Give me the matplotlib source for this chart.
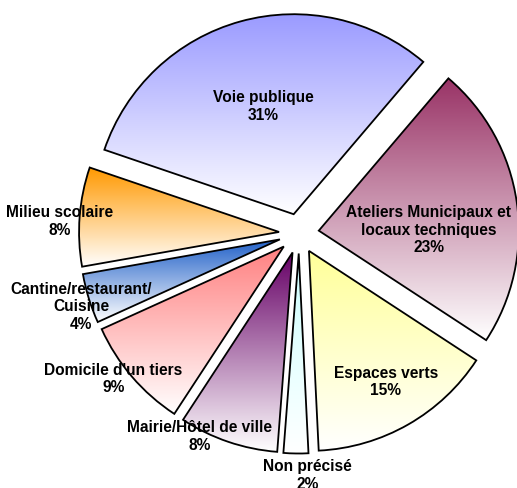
import numpy as np
import matplotlib
matplotlib.use("Agg")
import matplotlib.pyplot as plt
from matplotlib.colors import LinearSegmentedColormap

# Data (clockwise order starting at upper right)
categories = ["Ateliers Municipaux et\nlocaux techniques", "Espaces verts", "Non précisé",
              "Mairie/Hôtel de ville", "Domicile d'un tiers", "Cantine/restaurant/\nCuisine",
              "Milieu scolaire", "Voie publique"]
values = [23, 15, 2, 8, 9, 4, 8, 31]
colors = ["#993366", "#FFFF99", "#CCFFFF", "#660066", "#FF8080", "#2060C8", "#FF9900", "#9999FF"]

# layout: label radius (relative to pie centre) and angular offset (deg)
label_r = [0.65, 0.86, 1.21, 1.13, 1.18, 1.15, 1.20, 0.66]
label_dang = [-6.7, 0.5, 2.8, -7.2, -2.5, 1.4, 1.5, 0.3]

W, H, DPI = 517, 488, 100
fig = plt.figure(figsize=(W / DPI, H / DPI), dpi=DPI)
ax = fig.add_axes([0, 0, 1, 1])

explode = [0.1] * len(values)
start = 49.6
wedges, _ = ax.pie(values, explode=explode, startangle=start, counterclock=False,
                   radius=1.0, wedgeprops=dict(edgecolor="black", linewidth=1.3))

# gradient fills
for w, c in zip(wedges, colors):
    w.set_facecolor("none")
    path = w.get_path()
    verts = path.vertices
    x0, x1 = verts[:, 0].min(), verts[:, 0].max()
    y0, y1 = verts[:, 1].min(), verts[:, 1].max()
    cmap = LinearSegmentedColormap.from_list("g", ["#FFFFFF", c])
    grad = np.linspace(0, 1, 256).reshape(-1, 1)
    im = ax.imshow(grad, extent=[x0, x1, y0, y1], origin="lower", cmap=cmap,
                   aspect="auto", zorder=w.get_zorder() - 0.1, interpolation="bilinear")
    im.set_clip_path(w)

# labels
total = sum(values)
ang = start
for v, name, lr, da in zip(values, categories, label_r, label_dang):
    span = 360.0 * v / total
    mid = ang - span / 2
    ang -= span
    th = np.deg2rad(mid + da)
    ax.text(lr * np.cos(th), lr * np.sin(th), f"{name}\n{v}%", ha="center", va="center",
            fontsize=11.2, fontweight="bold", family="Liberation Sans", color="black",
            linespacing=1.2, zorder=10)

cx, cy, R = 299, 233.5, 200
ax.set_xlim(-cx / R, (W - cx) / R)
ax.set_ylim(-(H - cy) / R, cy / R)
ax.set_aspect("auto")
ax.axis("off")
fig.savefig("out.png", dpi=DPI)
